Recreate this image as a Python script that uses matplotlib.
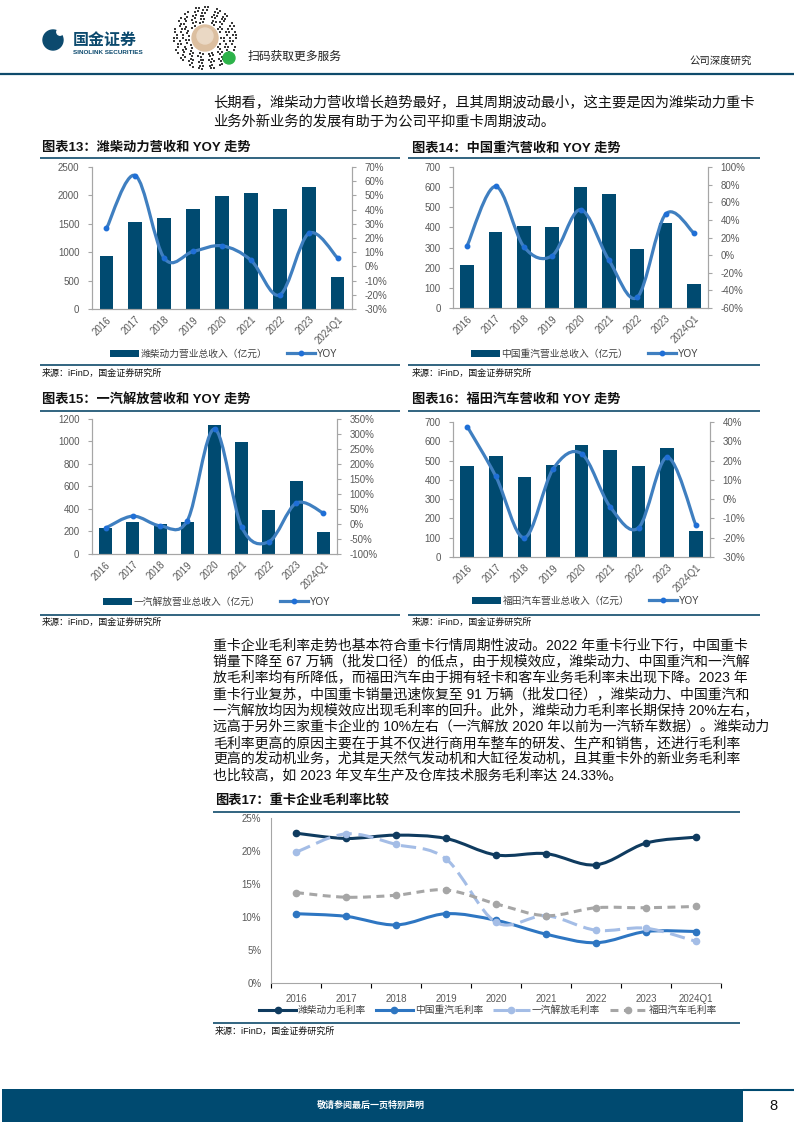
import numpy as np
import matplotlib
matplotlib.use("Agg")
import matplotlib.pyplot as plt
from matplotlib.path import Path
from matplotlib.patches import PathPatch, Patch, Rectangle, Circle
from matplotlib.lines import Line2D
from matplotlib.ticker import FuncFormatter, MultipleLocator

plt.rcParams['font.family'] = ['Liberation Sans', 'Noto Sans CJK SC']

W, H = 794, 1123

# ---- data ----
years = ['2016', '2017', '2018', '2019', '2020', '2021', '2022', '2023', '2024Q1']

weichai_rev = [940, 1530, 1600, 1760, 1990, 2040, 1760, 2150, 570]
weichai_yoy = [26.7, 64.0, 5.8, 10.5, 14.5, 4.4, -20.1, 23.2, 6.0]

sinotruk_rev = [215, 379, 409, 404, 602, 568, 295, 424, 121]
sinotruk_yoy = [10.7, 78.0, 9.6, -0.6, 51.6, -5.5, -47.9, 46.3, 25.1]

faw_rev = [231, 287, 266, 287, 1147, 993, 390, 647, 198]
faw_yoy = [-13.6, 26.3, -5.9, 10.8, 316.7, -10.3, -59.0, 69.5, 36.3]

foton_rev = [473, 525, 416, 479, 582, 556, 473, 567, 137]
foton_yoy = [37.6, 11.8, -20.0, 15.5, 23.6, -3.9, -14.8, 21.7, -13.4]

weichai_gm = [22.7, 21.9, 22.4, 21.9, 19.4, 19.6, 17.9, 21.2, 22.1]
sinotruk_gm = [10.5, 10.1, 8.8, 10.5, 9.5, 7.4, 6.1, 7.8, 7.8]
faw_gm = [19.8, 22.6, 21.0, 18.8, 9.2, 10.2, 8.0, 8.3, 6.3]
foton_gm = [13.7, 13.0, 13.3, 14.1, 12.0, 10.2, 11.4, 11.4, 11.6]

gm_labels = ['潍柴动力毛利率', '中国重汽毛利率', '一汽解放毛利率', '福田汽车毛利率']

intro_lines = [
    '长期看，潍柴动力营收增长趋势最好，且其周期波动最小，这主要是因为潍柴动力重卡',
    '业务外新业务的发展有助于为公司平抑重卡周期波动。',
]
body_lines = [
    '重卡企业毛利率走势也基本符合重卡行情周期性波动。2022 年重卡行业下行，中国重卡',
    '销量下降至 67 万辆（批发口径）的低点，由于规模效应，潍柴动力、中国重汽和一汽解',
    '放毛利率均有所降低，而福田汽车由于拥有轻卡和客车业务毛利率未出现下降。2023 年',
    '重卡行业复苏，中国重卡销量迅速恢复至 91 万辆（批发口径），潍柴动力、中国重汽和',
    '一汽解放均因为规模效应出现毛利率的回升。此外，潍柴动力毛利率长期保持 20%左右，',
    '远高于另外三家重卡企业的 10%左右（一汽解放 2020 年以前为一汽轿车数据）。潍柴动力',
    '毛利率更高的原因主要在于其不仅进行商用车整车的研发、生产和销售，还进行毛利率',
    '更高的发动机业务，尤其是天然气发动机和大缸径发动机，且其重卡外的新业务毛利率',
    '也比较高，如 2023 年叉车生产及仓库技术服务毛利率达 24.33%。',
]
source = '来源：iFinD，国金证券研究所'

# ---- styles ----
NAVY = '#004a70'
RULE = '#0e4a6b'
LINE_BLUE = '#3f7fc0'
DOT_BLUE = '#1f6fd6'
TICK_GREY = '#595959'
SPINE_GREY = '#a6a6a6'
GM_COLORS = ['#0f3b5f', '#2e76c2', '#a4bde6', '#a6a6a6']

fig = plt.figure(figsize=(W / 100, H / 100), dpi=100)

# page overlay in pixel coordinates (y downwards)
page = fig.add_axes([0, 0, 1, 1])
page.set_xlim(0, W)
page.set_ylim(H, 0)
page.axis('off')


def px_axes(l, t, r, b):
    return fig.add_axes([l / W, 1 - b / H, (r - l) / W, (b - t) / H])


def hline(x0, x1, y, color=RULE, lw=1.2):
    page.plot([x0, x1], [y, y], color=color, lw=lw, solid_capstyle='butt')


def smooth_path(xs, ys):
    """Bezier path through the points, like a spreadsheet 'smoothed line'"""
    pts = np.column_stack([xs, ys]).astype(float)
    n = len(pts)
    verts = [pts[0]]
    codes = [Path.MOVETO]
    for i in range(n - 1):
        p0 = pts[i - 1] if i > 0 else pts[i]
        p1, p2 = pts[i], pts[i + 1]
        p3 = pts[i + 2] if i + 2 < n else pts[i + 1]
        verts += [p1 + (p2 - p0) / 6, p2 - (p3 - p1) / 6, p2]
        codes += [Path.CURVE4] * 3
    return Path(verts, codes)


def bar_yoy_chart(box, rev, yoy, lmax, lstep, rlim, rstep, rev_label, legend_xy):
    ax = px_axes(*box)
    x = np.arange(len(years))
    ax.bar(x, rev, width=0.48, color=NAVY, zorder=2)
    ax.set_xlim(-0.5, len(years) - 0.5)
    ax.set_ylim(0, lmax)
    ax.yaxis.set_major_locator(MultipleLocator(lstep))
    ax.set_xticks(x)
    ax.set_xticklabels(years, rotation=45, ha='right', rotation_mode='anchor')

    ax2 = ax.twinx()
    ax2.set_ylim(*rlim)
    ax2.yaxis.set_major_locator(MultipleLocator(rstep))
    ax2.yaxis.set_major_formatter(FuncFormatter(lambda v, p: f'{v:.0f}%'))
    ax2.add_patch(PathPatch(smooth_path(x, yoy), fill=False, ec=LINE_BLUE, lw=2.3,
                            capstyle='round', joinstyle='round', zorder=3))
    ax2.plot(x, yoy, 'o', ms=3.2, color=DOT_BLUE, zorder=4)

    for a in (ax, ax2):
        for s in a.spines.values():
            s.set_color(SPINE_GREY)
            s.set_linewidth(0.8)
        a.spines['top'].set_visible(False)
        a.tick_params(labelcolor=TICK_GREY, color=SPINE_GREY, labelsize=7, length=3, width=0.8)
    ax.tick_params(axis='x', length=0, pad=4)
    ax.tick_params(axis='y', pad=6)
    ax2.tick_params(axis='y', pad=6)

    handles = [Patch(fc=NAVY, ec='none'),
               Line2D([], [], color=LINE_BLUE, lw=2.3, marker='o', ms=3.2,
                      mfc=DOT_BLUE, mec=DOT_BLUE)]
    ax.legend(handles, [rev_label, 'YOY'], loc='center',
              bbox_to_anchor=(legend_xy[0] / W, 1 - legend_xy[1] / H),
              bbox_transform=fig.transFigure, ncol=2, frameon=False, fontsize=7,
              labelcolor='#404040', handlelength=2.9, handleheight=0.8,
              handletextpad=0.2, columnspacing=2.0, borderaxespad=0)
    return ax


# ---- header ----
hline(0, W, 74, lw=1.6)
page.add_patch(Circle((53, 40), 10, color='#0c4a6e'))
page.add_patch(Circle((60, 32), 3.2, color='white'))
page.text(73, 40, '国金证券', fontsize=11.5, fontweight='bold', color='#0c4a6e', va='center')
page.text(73, 52, 'SINOLINK SECURITIES', fontsize=4.6, fontweight='bold', color='#0c4a6e', va='center')

qx, qy = 205, 38
dots = []
for ring in range(6):
    r = 16 + ring * 3.0
    n = int(2 * np.pi * r / 3.0)
    for k in range(n):
        if (k * 5 + ring * 3) % 7 < 4:
            a = 2 * np.pi * k / n
            dots.append((qx + r * np.cos(a), qy + r * np.sin(a)))
dots = np.array(dots)
page.scatter(dots[:, 0], dots[:, 1], s=2.2, marker='s', color='#3a3a3a', lw=0)
page.add_patch(Circle((qx, qy), 13, color='#dcbfa0'))
page.add_patch(Circle((qx, qy - 2), 8, color='#ead8c4'))
page.add_patch(Circle((229, 58), 6, color='#2db34a'))
page.text(248, 57, '扫码获取更多服务', fontsize=8.5, color='#222222', va='center')
page.text(752, 62, '公司深度研究', fontsize=7.5, color='#222222', va='center', ha='right')

# ---- intro text ----
for i, s in enumerate(intro_lines):
    page.text(213, 103 + i * 19, s, fontsize=10.3, color='#111111', va='center')

# ---- charts 13-16 ----
titles = ['图表13：潍柴动力营收和 YOY 走势', '图表14：中国重汽营收和 YOY 走势',
          '图表15：一汽解放营收和 YOY 走势', '图表16：福田汽车营收和 YOY 走势']
for (tx, ty, x0, x1, ly, by, sy), t in zip(
        [(42, 148, 40, 400, 158, 365, 373.5), (412, 148, 408, 760, 158, 365, 373.5),
         (42, 399, 40, 400, 411, 614.5, 622.5), (412, 399, 408, 760, 411, 614.5, 622.5)],
        titles):
    page.text(tx, ty, t, fontsize=9.5, fontweight='bold', color='#111111', va='center')
    hline(x0, x1, ly)
    hline(x0, x1, by)
    page.text(tx, sy, source, fontsize=6.5, color='#111111', va='center')

bar_yoy_chart((92, 167, 352, 309), weichai_rev, weichai_yoy, 2500, 500, (-30, 70), 10,
              '潍柴动力营业总收入（亿元）', (224, 354))
bar_yoy_chart((453, 167, 708, 308), sinotruk_rev, sinotruk_yoy, 700, 100, (-60, 100), 20,
              '中国重汽营业总收入（亿元）', (585, 354))
bar_yoy_chart((92, 419, 337, 554), faw_rev, faw_yoy, 1200, 200, (-100, 350), 50,
              '一汽解放营业总收入（亿元）', (217, 602))
bar_yoy_chart((453, 422, 710, 557), foton_rev, foton_yoy, 700, 100, (-30, 40), 10,
              '福田汽车营业总收入（亿元）', (586, 601))

# ---- body text ----
for i, s in enumerate(body_lines):
    page.text(213, 645 + i * 16.3, s, fontsize=10.0, color='#111111', va='center')

# ---- chart 17 ----
page.text(215, 800, '图表17：重卡企业毛利率比较', fontsize=9.5, fontweight='bold',
          color='#111111', va='center')
hline(213, 740, 811.7)
hline(213, 740, 1022.7)
page.text(215, 1031, source, fontsize=6.5, color='#111111', va='center')

ax = px_axes(271, 818, 721, 983)
x = np.arange(len(years))
series = [weichai_gm, sinotruk_gm, faw_gm, foton_gm]
styles = [dict(ls='-'), dict(ls='-'), dict(ls=(0, (5, 2.2))), dict(ls=(0, (2.6, 1.8)))]
handles = []
for vals, col, st in zip(series, GM_COLORS, styles):
    ax.add_patch(PathPatch(smooth_path(x, vals), fill=False, ec=col, lw=2.2,
                           capstyle='butt', joinstyle='round', zorder=3, **st))
    ax.plot(x, vals, 'o', ms=4.5, color=col, zorder=4)
    handles.append(Line2D([], [], color=col, lw=2.2, marker='o', ms=4.5, **st))
ax.set_xlim(-0.5, len(years) - 0.5)
ax.set_ylim(0, 25)
ax.yaxis.set_major_locator(MultipleLocator(5))
ax.yaxis.set_major_formatter(FuncFormatter(lambda v, p: f'{v:.0f}%'))
ax.set_xticks(x)
ax.set_xticklabels(years)
ax.set_xticks(np.arange(-0.5, len(years)), minor=True)
for side in ('top', 'right'):
    ax.spines[side].set_visible(False)
for side in ('left', 'bottom'):
    ax.spines[side].set_color(SPINE_GREY)
    ax.spines[side].set_linewidth(0.8)
ax.tick_params(labelcolor=TICK_GREY, labelsize=7, color=SPINE_GREY)
ax.tick_params(axis='x', which='major', length=0, pad=8)
ax.tick_params(axis='x', which='minor', length=3.5, width=0.8)
ax.tick_params(axis='y', length=0, pad=7)
ax.legend(handles, gm_labels, loc='center', bbox_to_anchor=(488 / W, 1 - 1010 / H),
          bbox_transform=fig.transFigure, ncol=4, frameon=False, fontsize=7,
          labelcolor='#404040', handlelength=3.8, handletextpad=0.2,
          columnspacing=1.0, borderaxespad=0)

# ---- footer ----
page.add_patch(Rectangle((2, 1089), 741, 33, color=NAVY, lw=0))
page.text(371, 1105, '敬请参阅最后一页特别声明', fontsize=6.5, fontweight='bold',
          color='white', ha='center', va='center')
hline(743, W, 1090, color=NAVY, lw=1.5)
page.text(773, 1106, '8', fontsize=10.5, color='#111111', ha='center', va='center')

fig.savefig('out.png', dpi=100)
